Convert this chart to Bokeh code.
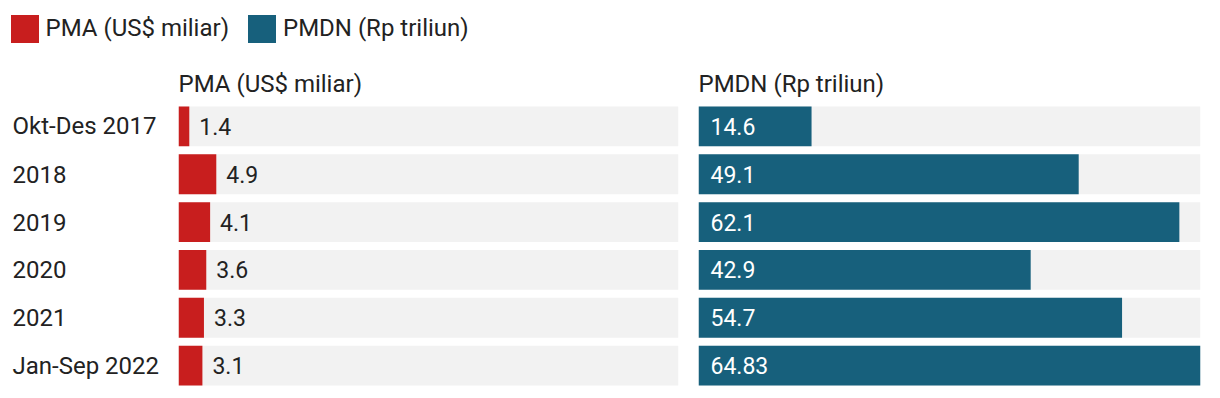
from bokeh.plotting import figure
from bokeh.layouts import column, row
from bokeh.models import Range1d, FactorRange, Legend, LegendItem
from bokeh.core.properties import value
from bokeh.embed import file_html
from bokeh.resources import INLINE

categories = ["Okt-Des 2017", "2018", "2019", "2020", "2021", "Jan-Sep 2022"]
pma = [1.4, 4.9, 4.1, 3.6, 3.3, 3.1]
pmdn = [14.6, 49.1, 62.1, 42.9, 54.7, 64.83]
pma_labels = ["1.4", "4.9", "4.1", "3.6", "3.3", "3.1"]
pmdn_labels = ["14.6", "49.1", "62.1", "42.9", "54.7", "64.83"]
series_names = ["PMA (US$ miliar)", "PMDN (Rp triliun)"]

RED = "#c81e1e"
TEAL = "#17607c"
GREY = "#f2f2f2"
TEXT = "#222222"
FONT = "Roboto"
FS = "24px"
FS_VAL = "23px"

xmax = max(max(pma), max(pmdn))
y_range = FactorRange(factors=categories[::-1])
TOP = 39
ROW_H = TOP + 288
BAR_H = 40 / 48


def base(width, title, bl=0, br=0):
    p = figure(width=width, height=ROW_H, x_range=Range1d(0, xmax), y_range=y_range,
               output_backend="svg", toolbar_location=None,
               x_axis_location=None, y_axis_location=None,
               min_border_left=bl, min_border_right=br, min_border_top=TOP,
               min_border_bottom=0, title=title)
    p.outline_line_color = None
    p.xgrid.visible = False
    p.ygrid.visible = False
    p.title.text_font = FONT
    p.title.text_font_size = FS
    p.title.text_font_style = "normal"
    p.title.text_color = TEXT
    p.title.align = "left"
    p.title.offset = 0
    return p


# row labels
lab = base(178, " ")
lab.x_range = Range1d(0, 1)
lab.text(x=[0] * len(categories), y=categories, text=categories, x_offset=12,
         text_baseline="middle", text_align="left", text_font=value(FONT),
         text_font_size=FS, text_color=TEXT)

# PMA panel
p1 = base(520, series_names[0], bl=0, br=20)
p1.hbar(y=categories, left=0, right=xmax, height=BAR_H, fill_color=GREY, line_color=None)
p1.hbar(y=categories, left=0, right=pma, height=BAR_H, fill_color=RED, line_color=None)
p1.text(x=pma, y=categories, text=pma_labels, x_offset=10, text_baseline="middle",
        text_align="left", text_font=value(FONT), text_font_size=FS_VAL, text_color=TEXT)

# PMDN panel
p2 = base(506, series_names[1], bl=0, br=4)
p2.hbar(y=categories, left=0, right=xmax, height=BAR_H, fill_color=GREY, line_color=None)
p2.hbar(y=categories, left=0, right=pmdn, height=BAR_H, fill_color=TEAL, line_color=None)
p2.text(x=[0] * len(pmdn), y=categories, text=pmdn_labels, x_offset=12, text_baseline="middle",
        text_align="left", text_font=value(FONT), text_font_size=FS_VAL, text_color="white")

# legend strip
LEG_H = 62
lp = figure(width=1204, height=LEG_H, x_range=Range1d(0, 1), y_range=Range1d(0, 1),
            output_backend="svg", toolbar_location=None,
            x_axis_location=None, y_axis_location=None,
            min_border_left=0, min_border_right=0, min_border_top=0, min_border_bottom=0)
lp.outline_line_color = None
lp.xgrid.visible = False
lp.ygrid.visible = False
r1 = lp.hbar(y=[0], left=[0], right=[0], height=0, fill_color=RED, line_color=None)
r2 = lp.hbar(y=[0], left=[0], right=[0], height=0, fill_color=TEAL, line_color=None)
legend = Legend(items=[LegendItem(label=series_names[0], renderers=[r1]),
                       LegendItem(label=series_names[1], renderers=[r2])],
                orientation="horizontal", location=(6.5, LEG_H - 10.5 - 35),
                glyph_width=35, glyph_height=35, label_standoff=4, spacing=15,
                padding=0, margin=0, border_line_color=None, background_fill_alpha=0,
                label_text_font=FONT, label_text_font_size=FS, label_text_color=TEXT)
lp.add_layout(legend)

layout = column(lp, row(lab, p1, p2))
open("out.html", "w").write(file_html(layout, INLINE))
